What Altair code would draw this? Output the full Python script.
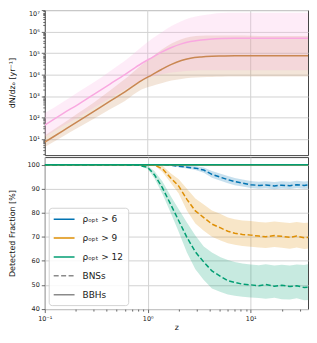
import altair as alt
import pandas as pd

# ---------------- top panel: cumulative rate (log10 values)
z_rate = [0.1, 0.15, 0.21, 0.3, 0.43, 0.6, 0.87, 1.1, 1.36, 1.7, 2.12, 2.6, 3.3, 4.2, 5.2, 7, 10, 15, 20, 30, 39]
bbh_log = [0.84, 1.37, 1.81, 2.28, 2.76, 3.19, 3.72, 3.99, 4.24, 4.48, 4.66, 4.77, 4.83, 4.86, 4.87, 4.88, 4.88, 4.88, 4.88, 4.88, 4.88]
bbh_log_hi = [1.15, 1.71, 2.19, 2.70, 3.26, 3.79, 4.45, 4.83, 5.16, 5.46, 5.66, 5.77, 5.82, 5.83, 5.83, 5.83, 5.82, 5.81, 5.81, 5.81, 5.81]
bbh_log_lo = [0.61, 1.11, 1.51, 1.94, 2.38, 2.77, 3.30, 3.47, 3.60, 3.72, 3.80, 3.85, 3.88, 3.89, 3.90, 3.91, 3.91, 3.91, 3.91, 3.91, 3.91]
bns_log = [1.64, 2.18, 2.60, 3.08, 3.56, 4.00, 4.52, 4.80, 5.05, 5.27, 5.44, 5.55, 5.62, 5.67, 5.69, 5.70, 5.70, 5.70, 5.70, 5.70, 5.70]
bns_log_hi = [2.20, 2.72, 3.18, 3.64, 4.16, 4.65, 5.29, 5.68, 5.97, 6.27, 6.50, 6.66, 6.77, 6.84, 6.88, 6.89, 6.90, 6.90, 6.90, 6.90, 6.90]
bns_log_lo = [1.09, 1.60, 2.00, 2.45, 2.90, 3.30, 3.72, 3.90, 4.02, 4.10, 4.15, 4.18, 4.20, 4.20, 4.20, 4.20, 4.20, 4.20, 4.20, 4.20, 4.20]

pops = ["BBHs", "BNSs"]
pop_colors = ["#c98752", "#f9a8e0"]

# ---------------- bottom panel: detected fraction [%]
z_det = [0.1, 0.5, 0.8, 1.0, 1.16, 1.39, 1.67, 2.0, 2.4, 2.9, 3.5, 4.2, 5.1, 6.0, 7.0, 8.3, 10, 12, 14, 17, 20, 24, 28, 33, 39]
bns6 = [100, 100, 100, 100, 100, 100, 99.8, 99.4, 99.0, 98.6, 97.8, 96.0, 94.8, 93.8, 93.0, 92.4, 91.7, 91.4, 91.6, 91.2, 91.5, 91.3, 91.7, 91.4, 91.8]
bns6_hi = [100, 100, 100, 100, 100, 100, 100, 99.8, 99.6, 99.4, 98.9, 97.4, 96.3, 95.3, 94.5, 93.9, 93.2, 92.9, 93.1, 92.8, 93.1, 92.9, 93.3, 93.0, 93.4]
bns6_lo = [100, 100, 100, 100, 100, 100, 99.6, 99.0, 98.4, 97.8, 96.7, 94.6, 93.3, 92.3, 91.5, 91.0, 90.3, 90.0, 90.2, 89.8, 90.1, 89.9, 90.3, 90.0, 90.2]
bns9 = [100, 100, 100, 100, 99.9, 98.3, 94.5, 91.1, 85.6, 80.8, 78.0, 75.3, 73.7, 72.3, 71.5, 71.0, 70.7, 70.3, 70.0, 70.5, 70.2, 69.8, 70.3, 69.6, 69.9]
bns9_hi = [100, 100, 100, 100, 100, 99.6, 96.5, 94.0, 90.0, 86.0, 83.5, 81.0, 79.5, 78.0, 77.3, 76.8, 76.6, 76.2, 76.0, 76.4, 76.1, 75.8, 76.2, 75.8, 76.0]
bns9_lo = [100, 100, 100, 100, 99.8, 97.0, 92.5, 88.0, 81.0, 75.5, 72.5, 70.0, 68.5, 67.3, 66.7, 66.2, 65.9, 65.5, 65.3, 65.8, 65.4, 65.0, 65.5, 64.9, 65.2]
bns12 = [100, 100, 99.9, 98.9, 95.9, 90.4, 83.5, 76.7, 69.8, 63.7, 59.5, 55.8, 53.5, 51.7, 51.0, 50.3, 50.0, 49.6, 50.1, 49.4, 49.8, 49.3, 49.6, 48.9, 49.1]
bns12_hi = [100, 100, 100, 99.6, 97.4, 93.0, 87.0, 81.5, 76.0, 70.5, 66.0, 63.5, 61.5, 60.3, 59.5, 58.9, 58.5, 58.2, 58.6, 58.0, 58.4, 58.1, 58.5, 58.3, 58.9]
bns12_lo = [100, 100, 99.8, 98.2, 94.4, 87.8, 80.0, 72.0, 63.5, 56.5, 52.0, 48.5, 47.0, 46.0, 45.5, 45.0, 44.7, 44.5, 44.2, 44.6, 44.0, 43.9, 44.4, 43.6, 43.8]
bbh_det = [100] * len(z_det)

rho_labels = ["ρₒₚₜ > 6", "ρₒₚₜ > 9", "ρₒₚₜ > 12"]
rho_colors = ["#0173b2", "#de8f05", "#029e73"]
legend_entries = rho_labels + ["BNSs", "BBHs"]
legend_colors = rho_colors + ["#8a8a8a", "#8a8a8a"]
legend_dashes = [[1, 0], [1, 0], [1, 0], [5, 2.5], [1, 0]]

# tick positions / labels
y_top_major = [10, 100, 1e3, 1e4, 1e5, 1e6, 1e7]
y_top_minor = [m * 10 ** k for k in range(0, 7) for m in range(2, 10)]
x_major = [0.1, 1, 10]
x_minor = [0.2, 0.3, 0.4, 0.5, 0.6, 0.7, 0.8, 0.9, 2, 3, 4, 5, 6, 7, 8, 9, 20, 30]
x_grid = [1, 10]
y_bot_ticks = [40, 50, 60, 70, 80, 90, 100]

SUP = {-1: "⁻¹", 0: "⁰", 1: "¹", 2: "²", 3: "³", 4: "⁴", 5: "⁵", 6: "⁶", 7: "⁷"}


def pow_label_expr(exps):
    return "".join(f"abs(datum.value/1e{e}-1)<0.01 ? '10{SUP[e]}' : " for e in exps) + "''"


MAJOR_TEST = "abs(log(datum.value)/LN10-round(log(datum.value)/LN10))<0.01"
tick_cond = {"condition": {"test": MAJOR_TEST, "value": 3.5}, "value": 2}
grid_cond = {"condition": {"test": MAJOR_TEST, "value": 1}, "value": 0}
label_size_cond = {"condition": {"test": MAJOR_TEST, "value": 6.5}, "value": 0}
top_baseline = {"condition": {"test": "datum.value > 5e6", "value": "top"}, "value": "middle"}

# ---------------- build tables
top_rows = []
for pop, c, lo, hi in [("BBHs", bbh_log, bbh_log_lo, bbh_log_hi), ("BNSs", bns_log, bns_log_lo, bns_log_hi)]:
    for i, z in enumerate(z_rate):
        top_rows.append(dict(z=z, pop=pop, val=10 ** c[i], lo=10 ** lo[i], hi=10 ** hi[i]))
top_df = pd.DataFrame(top_rows)

bot_rows = []
for lab, c, lo, hi in [(rho_labels[0], bns6, bns6_lo, bns6_hi),
                       (rho_labels[1], bns9, bns9_lo, bns9_hi),
                       (rho_labels[2], bns12, bns12_lo, bns12_hi)]:
    for i, z in enumerate(z_det):
        bot_rows.append(dict(z=z, thr=lab, pop="BNSs", val=c[i], lo=lo[i], hi=hi[i]))
    for i, z in enumerate(z_det):
        bot_rows.append(dict(z=z, thr=lab, pop="BBHs", val=bbh_det[i], lo=bbh_det[i], hi=bbh_det[i]))
bot_df = pd.DataFrame(bot_rows)
bns_band_df = bot_df[bot_df["pop"] == "BNSs"]
grid_df = pd.DataFrame({"z": x_grid})

W = 265
H_TOP = 146
H_BOT = 153
x_scale = alt.Scale(type="log", domain=[0.1, 36], nice=False)

legend_common = dict(
    title=None, symbolType="M-2,0H2", symbolSize=110, symbolStrokeWidth=1.6, symbolOffset=4,
    labelFontSize=9, labelFont="DejaVu Sans", labelColor="#222", labelOffset=12,
    fillColor="rgba(255,255,255,0.85)", strokeColor="#d3d3d3", cornerRadius=3,
    padding=5, offset=4,
)

# ---------------- top chart
y_top_axis = alt.Axis(
    values=y_top_major + y_top_minor, labelExpr=pow_label_expr(range(0, 8)),
    tickSize=tick_cond, gridOpacity=grid_cond, labelFontSize=label_size_cond,
    labelOverlap=False, labelBaseline=top_baseline,
    title="dN/dzₒ [yr⁻¹]", titlePadding=4, minExtent=24, maxExtent=24, labelPadding=2,
)
y_top_scale = alt.Scale(type="log", domain=[10 ** 0.235, 10 ** 7.02], nice=False)
x_top = alt.X("z:Q", scale=x_scale, axis=None)

top_grid = alt.Chart(grid_df).mark_rule(color="#d2d2d2", strokeWidth=1).encode(x=x_top)
top_band = alt.Chart(top_df).mark_area(opacity=0.22, interpolate="monotone", clip=True).encode(
    x=x_top,
    y=alt.Y("lo:Q", scale=y_top_scale, axis=y_top_axis),
    y2="hi:Q",
    fill=alt.Fill("pop:N", scale=alt.Scale(domain=pops, range=pop_colors), legend=None),
)
top_line = alt.Chart(top_df).mark_line(strokeWidth=1.5, interpolate="monotone", clip=True).encode(
    x=x_top,
    y=alt.Y("val:Q", scale=y_top_scale, axis=y_top_axis),
    color=alt.Color("pop:N", scale=alt.Scale(domain=pops, range=pop_colors),
                    legend=alt.Legend(orient="top-left", rowPadding=3.5, **legend_common)),
)
top = alt.layer(top_grid, top_band, top_line).properties(width=W, height=H_TOP)

# ---------------- bottom chart
x_bot = alt.X("z:Q", scale=x_scale, axis=alt.Axis(
    values=x_major + x_minor, labelExpr=pow_label_expr([-1, 0, 1]),
    tickSize=tick_cond, gridOpacity=grid_cond, labelOverlap=False, labelFlush=False,
    title="z", titlePadding=2, labelPadding=3,
))
y_bot_scale = alt.Scale(domain=[39.9, 103.2], nice=False, zero=False)
y_bot_axis = alt.Axis(values=y_bot_ticks, title="Detected Fraction [%]", tickSize=3.5,
                      titlePadding=4, minExtent=24, maxExtent=24, labelPadding=2)

bot_band = alt.Chart(bns_band_df).mark_area(opacity=0.22, clip=True).encode(
    x=x_bot,
    y=alt.Y("lo:Q", scale=y_bot_scale, axis=y_bot_axis),
    y2="hi:Q",
    fill=alt.Fill("thr:N", scale=alt.Scale(domain=rho_labels, range=rho_colors), legend=None),
)
bot_legend = alt.Legend(orient="bottom-left", rowPadding=7, **legend_common)
bot_line = alt.Chart(bot_df).mark_line(strokeWidth=1.5, clip=True).encode(
    x=x_bot,
    y=alt.Y("val:Q", scale=y_bot_scale, axis=y_bot_axis),
    color=alt.Color("thr:N", scale=alt.Scale(domain=legend_entries, range=legend_colors), legend=bot_legend),
    strokeDash=alt.StrokeDash("pop:N", scale=alt.Scale(domain=legend_entries, range=legend_dashes), legend=bot_legend),
)
bottom = alt.layer(bot_band, bot_line).properties(width=W, height=H_BOT)

chart = (
    alt.vconcat(top, bottom, spacing=0)
    .resolve_scale(color="independent", fill="independent", strokeDash="independent")
    .properties(padding=0, background="white")
    .configure_view(stroke="#444", strokeWidth=1)
    .configure_axis(
        labelFont="DejaVu Sans", titleFont="DejaVu Sans", labelColor="#222", titleColor="#111",
        labelFontSize=6.5, titleFontSize=8, titleFontWeight="normal",
        tickColor="#444", tickWidth=0.8, gridColor="#d2d2d2", gridWidth=1, domain=False,
    )
)

chart.save("out.html", embed_options={"renderer": "svg", "actions": False})
